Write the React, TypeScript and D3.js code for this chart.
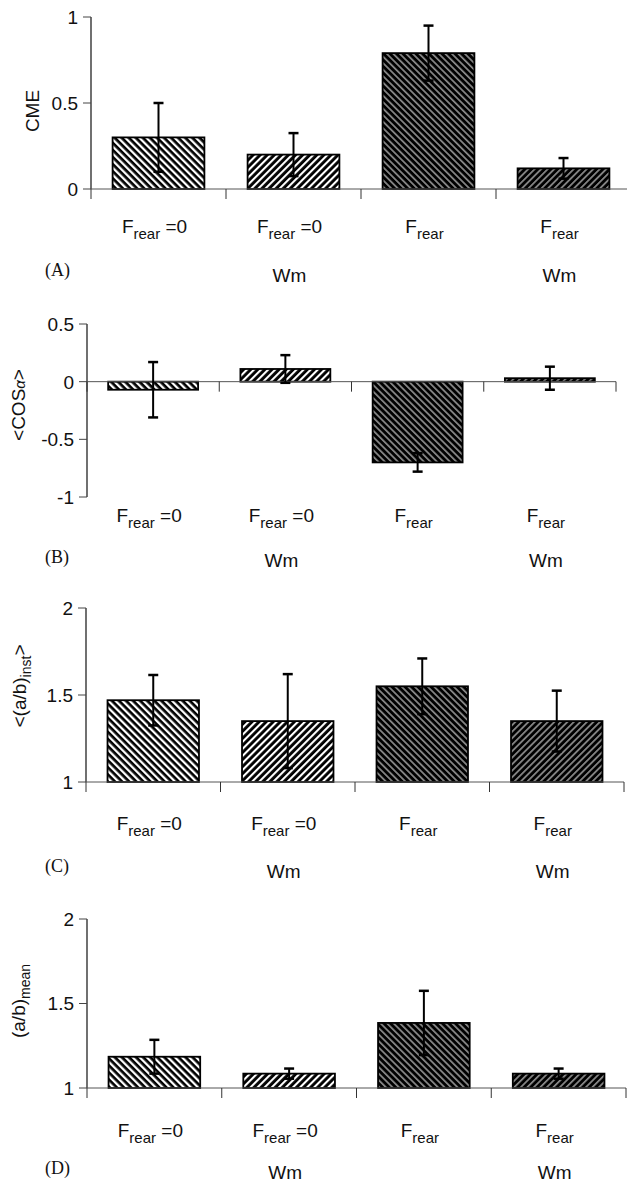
import React from "react";
import * as d3 from "d3";

// ---- data ----
const categoryMain = ["F", "F", "F", "F"];
const categorySub = ["rear", "rear", "rear", "rear"];
const categorySuffix = [" =0", " =0", "", ""];
const categorySecond = ["", "Wm", "", "Wm"];

const cmeValues = [0.3, 0.2, 0.79, 0.12];
const cmeErrors = [0.2, 0.125, 0.16, 0.06];
const cmeTicks = [0, 0.5, 1];
const cmeTickLabels = ["0", "0.5", "1"];

const cosValues = [-0.07, 0.11, -0.7, 0.03];
const cosErrors = [0.24, 0.12, 0.08, 0.1];
const cosTicks = [-1, -0.5, 0, 0.5];
const cosTickLabels = ["-1", "-0.5", "0", "0.5"];

const instValues = [1.47, 1.35, 1.55, 1.35];
const instErrors = [0.145, 0.27, 0.16, 0.175];
const instTicks = [1, 1.5, 2];
const instTickLabels = ["1", "1.5", "2"];

const meanValues = [1.185, 1.085, 1.385, 1.085];
const meanErrors = [0.1, 0.03, 0.19, 0.03];
const meanTicks = [1, 1.5, 2];
const meanTickLabels = ["1", "1.5", "2"];

const patternIds = ["hatchA", "hatchB", "hatchC", "hatchD"];

const SANS = "'Liberation Sans', Arial, Helvetica, sans-serif";
const SERIF = "'Liberation Serif', 'Times New Roman', serif";

type Panel = {
  values: number[];
  errors: number[];
  ticks: number[];
  tickLabels: string[];
  domain: [number, number];
  base: number;
  yTop: number;
  yBottom: number;
  axisX: number;
  xEnd: number;
  letter: string;
  fBase: number;
  wmBase: number;
  letterBase: number;
  ylabel: React.ReactNode;
  ylabelX: number;
  ylabelY: number;
};

const panels: Panel[] = [
  {
    values: cmeValues, errors: cmeErrors, ticks: cmeTicks, tickLabels: cmeTickLabels,
    domain: [0, 1], base: 0, yTop: 17, yBottom: 189, axisX: 91, xEnd: 631,
    letter: "(A)", fBase: 233, wmBase: 282, letterBase: 276,
    ylabel: <>CME</>, ylabelX: 32, ylabelY: 111,
  },
  {
    values: cosValues, errors: cosErrors, ticks: cosTicks, tickLabels: cosTickLabels,
    domain: [-1, 0.5], base: 0, yTop: 324, yBottom: 497, axisX: 87, xEnd: 616,
    letter: "(B)", fBase: 522, wmBase: 567, letterBase: 563,
    ylabel: <>{"<COS"}<tspan fontSize={15} fontStyle="italic">α</tspan>{">"}</>, ylabelX: 18, ylabelY: 405,
  },
  {
    values: instValues, errors: instErrors, ticks: instTicks, tickLabels: instTickLabels,
    domain: [1, 2], base: 1, yTop: 608, yBottom: 782, axisX: 86, xEnd: 624,
    letter: "(C)", fBase: 830, wmBase: 878, letterBase: 872,
    ylabel: <>{"<(a/b)"}<tspan fontSize={14} dy={5}>inst</tspan><tspan dy={-5}>{">"}</tspan></>, ylabelX: 19, ylabelY: 686,
  },
  {
    values: meanValues, errors: meanErrors, ticks: meanTicks, tickLabels: meanTickLabels,
    domain: [1, 2], base: 1, yTop: 919, yBottom: 1088, axisX: 87, xEnd: 626,
    letter: "(D)", fBase: 1137, wmBase: 1179, letterBase: 1174,
    ylabel: <>{"(a/b)"}<tspan fontSize={14} dy={5}>mean</tspan></>, ylabelX: 18, ylabelY: 1001,
  },
];

function PanelView({ p }: { p: Panel }) {
  const idx = p.values.map((_, i) => String(i));
  const xBands = d3.scaleBand().domain(idx).range([p.axisX, p.xEnd]).padding(0);
  const xBars = d3.scaleBand().domain(idx).range([p.axisX, p.xEnd]).paddingInner(0.32).paddingOuter(0.16);
  const y = d3.scaleLinear().domain(p.domain).range([p.yBottom, p.yTop]);
  const y0 = y(p.base);
  const step = xBands.step();
  const boundaries = d3.range(idx.length + 1).map((i) => p.axisX + i * step);
  const xLineEnd = Math.min(p.xEnd, 627);

  return (
    <g>
      {/* y axis */}
      <line x1={p.axisX} x2={p.axisX} y1={p.yTop} y2={p.yBottom} stroke="#111" strokeWidth={1.2} />
      {p.ticks.map((t, i) => (
        <g key={"t" + i}>
          <line x1={p.axisX - 8} x2={p.axisX} y1={y(t)} y2={y(t)} stroke="#444" strokeWidth={1} />
          <text x={p.axisX - 13} y={y(t)} dy="0.36em" textAnchor="end" fontFamily={SANS} fontSize={19} fill="#111">
            {p.tickLabels[i]}
          </text>
        </g>
      ))}
      <text
        transform={`translate(${p.ylabelX},${p.ylabelY}) rotate(-90)`}
        textAnchor="middle"
        dy="0.36em"
        fontFamily={SANS}
        fontSize={19}
        fill="#111"
      >
        {p.ylabel}
      </text>

      {/* bars */}
      {p.values.map((v, i) => {
        const x = xBars(String(i))!;
        const w = xBars.bandwidth();
        const top = Math.min(y(v), y0);
        const h = Math.abs(y(v) - y0);
        return (
          <rect key={"b" + i} x={x} y={top} width={w} height={h}
            fill={`url(#${patternIds[i]})`} stroke="#000" strokeWidth={1.8} />
        );
      })}

      {/* x axis */}
      <line x1={p.axisX} x2={xLineEnd} y1={y0} y2={y0} stroke="#555" strokeWidth={1} />
      {boundaries.map((bx, i) => (
        <line key={"xt" + i} x1={bx} x2={bx} y1={y0} y2={y0 + 10} stroke="#333" strokeWidth={1} />
      ))}

      {/* error bars */}
      {p.values.map((v, i) => {
        const cx = xBars(String(i))! + xBars.bandwidth() / 2;
        const hi = y(v + p.errors[i]);
        const lo = y(v - p.errors[i]);
        return (
          <g key={"e" + i} stroke="#000">
            <line x1={cx} x2={cx} y1={hi} y2={lo} strokeWidth={2} />
            <line x1={cx - 5} x2={cx + 5} y1={hi} y2={hi} strokeWidth={2.5} />
            <line x1={cx - 5} x2={cx + 5} y1={lo} y2={lo} strokeWidth={2.5} />
          </g>
        );
      })}

      {/* category labels */}
      {idx.map((k, i) => {
        const cx = xBands(k)! + xBands.bandwidth() / 2 - 4;
        return (
          <g key={"c" + i} fontFamily={SANS} fill="#111">
            <text x={cx} y={p.fBase} textAnchor="middle" fontSize={19}>
              {categoryMain[i]}
              <tspan fontSize={15} dy={6}>{categorySub[i]}</tspan>
              <tspan fontSize={19} dy={-6}>{categorySuffix[i]}</tspan>
            </text>
            {categorySecond[i] && (
              <text x={cx} y={p.wmBase} textAnchor="middle" fontSize={19}>
                {categorySecond[i]}
              </text>
            )}
          </g>
        );
      })}
      <text x={45} y={p.letterBase} fontFamily={SERIF} fontSize={18} fill="#111">
        {p.letter}
      </text>
    </g>
  );
}

export default function App() {
  return (
    <div style={{ position: "absolute", left: 0, top: 0 }}>
      <svg width={627} height={1184} style={{ display: "block", background: "#fff" }}>
        <defs>
          <pattern id="hatchA" patternUnits="userSpaceOnUse" width={5} height={5} patternTransform="rotate(-45)">
            <rect width={5} height={5} fill="#000" />
            <rect width={2.3} height={5} fill="#fff" />
          </pattern>
          <pattern id="hatchB" patternUnits="userSpaceOnUse" width={5} height={5} patternTransform="rotate(45)">
            <rect width={5} height={5} fill="#000" />
            <rect width={2.1} height={5} fill="#fff" />
          </pattern>
          <pattern id="hatchC" patternUnits="userSpaceOnUse" width={4.6} height={4.6} patternTransform="rotate(-45)">
            <rect width={4.6} height={4.6} fill="#000" />
            <rect width={1.7} height={4.6} fill="#8c8c8c" />
          </pattern>
          <pattern id="hatchD" patternUnits="userSpaceOnUse" width={4.6} height={4.6} patternTransform="rotate(45)">
            <rect width={4.6} height={4.6} fill="#000" />
            <rect width={1.7} height={4.6} fill="#8c8c8c" />
          </pattern>
        </defs>
        {panels.map((p, i) => (
          <PanelView key={i} p={p} />
        ))}
      </svg>
    </div>
  );
}
